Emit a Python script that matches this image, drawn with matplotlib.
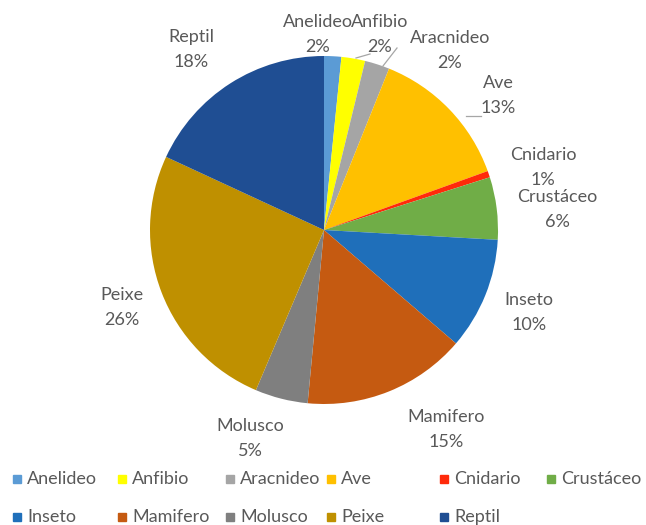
import matplotlib.pyplot as plt
from matplotlib.patches import Rectangle

# share of each group (percent)
groups = ["Anelideo", "Anfibio", "Aracnideo", "Ave", "Cnidario", "Crustáceo",
          "Inseto", "Mamifero", "Molusco", "Peixe", "Reptil"]
shares = [1.6, 2.2, 2.3, 13.4, 0.6, 5.8, 10.4, 15.2, 4.9, 25.5, 18.1]
colors = ["#5B9BD5", "#FFFF00", "#A5A5A5", "#FFC000", "#FF2A0A", "#70AD47",
          "#1F6FBA", "#C55A11", "#7F7F7F", "#BF9000", "#1F4E93"]

# label centres in pixels (x, y of first line)
label_pos = [(318, 22), (380, 22), (450, 38), (498, 83), (543, 155), (557, 197),
             (529, 300), (446, 417), (250, 426), (122, 295), (191, 37)]
# leader lines: (from slice edge) -> (to label), in pixels
leaders = {1: ((356, 58), (370, 54)), 2: ((383, 66), (397, 48)), 3: ((466, 116), (481, 116))}

W, H = 646, 525
CX, CY, R = 324, 230, 174
GREY = "#595959"
FS = 13
plt.rcParams["font.family"] = ["Lato", "DejaVu Sans"]


def px(x, y):
    return (x - CX) / R, (CY - y) / R


fig = plt.figure(figsize=(W / 100, H / 100), dpi=100)
ax = fig.add_axes([0, 0, 1, 1])

total = sum(shares)
ax.pie(shares, colors=colors, startangle=90, counterclock=False, radius=1,
       wedgeprops=dict(linewidth=0))
ax.set_xlim(-CX / R, (W - CX) / R)
ax.set_ylim(-(H - CY) / R, CY / R)
ax.axis("off")

for i, (name, v) in enumerate(zip(groups, shares)):
    x, y = px(*label_pos[i])
    ax.text(x, y, name, ha="center", va="center", fontsize=FS, color=GREY)
    x2, y2 = px(label_pos[i][0], label_pos[i][1] + 25)
    ax.text(x2, y2, f"{v / total * 100:.0f}%", ha="center", va="center",
            fontsize=FS, color=GREY)

for i, (a, b) in leaders.items():
    xa, ya = px(*a)
    xb, yb = px(*b)
    ax.plot([xa, xb], [ya, yb], color="#A6A6A6", linewidth=0.9)

# legend in two rows, Excel style
col_x = [13, 118, 226, 327, 440, 547]
row_y = [479, 517]
for i, (name, c) in enumerate(zip(groups, colors)):
    row, col = divmod(i, 6)
    mx, my = col_x[col], row_y[row]
    fig.patches.append(Rectangle((mx / W, 1 - (my + 4) / H), 8 / W, 8 / H,
                                 transform=fig.transFigure, color=c, figure=fig))
    fig.text((mx + 14) / W, 1 - my / H, name, ha="left", va="center",
             fontsize=FS, color=GREY)

fig.savefig("out.png", dpi=100)
